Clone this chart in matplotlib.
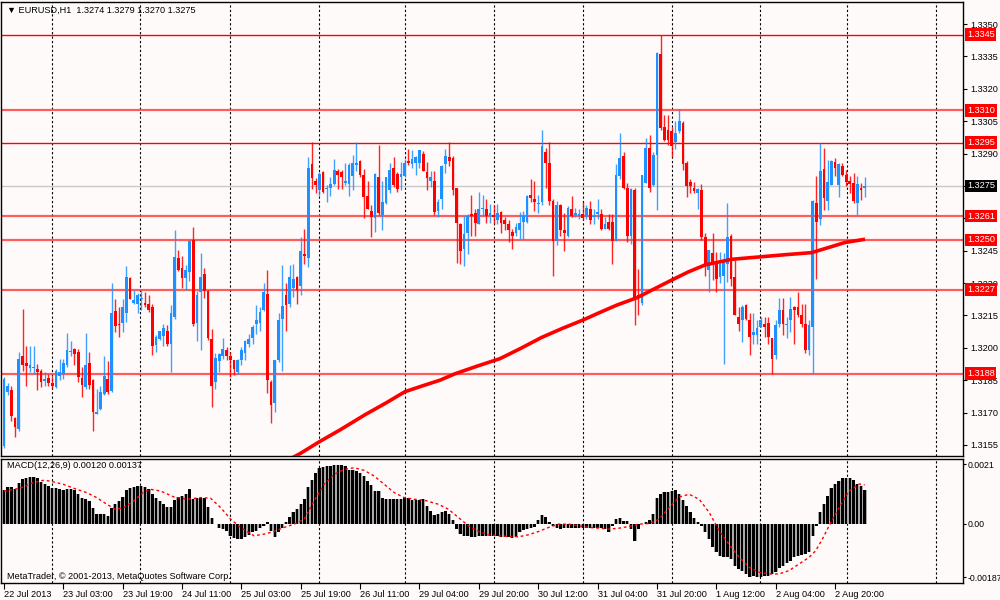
import matplotlib
matplotlib.use('Agg')
import matplotlib.pyplot as plt
import matplotlib.transforms as mtransforms
import numpy as np

# ---------------- data ----------------
opens = [
    1.31545, 1.31795, 1.31805, 1.31675, 1.31625, 1.31960, 1.31930, 1.31905, 1.31905, 1.31900,
    1.31895, 1.31845, 1.31860, 1.31835, 1.31820, 1.31870, 1.31880, 1.31920, 1.31980, 1.31995,
    1.31980, 1.31860, 1.31820, 1.31930, 1.31850, 1.31695, 1.31715, 1.31785, 1.31855, 1.31800,
    1.32170, 1.32110, 1.32115, 1.32160, 1.32325, 1.32210, 1.32205, 1.32225, 1.32210, 1.32205,
    1.32190, 1.32015, 1.32040, 1.32055, 1.32080, 1.32020, 1.32145, 1.32415, 1.32370, 1.32325,
    1.32350, 1.32500, 1.32115, 1.32260, 1.32340, 1.32265, 1.32040, 1.31840, 1.31940, 1.31960,
    1.31990, 1.31960, 1.31945, 1.31890, 1.31945, 1.31975, 1.32020, 1.32045, 1.32110, 1.32115,
    1.32175, 1.32250, 1.31840, 1.31745, 1.31945, 1.32135, 1.32245, 1.32205, 1.32275, 1.32330,
    1.32285, 1.32435, 1.32415, 1.32850, 1.32775, 1.32730, 1.32815, 1.32735, 1.32740, 1.32760,
    1.32820, 1.32815, 1.32765, 1.32760, 1.32795, 1.32845, 1.32865, 1.32800, 1.32705, 1.32635,
    1.32600, 1.32790, 1.32615, 1.32670, 1.32730, 1.32835, 1.32805, 1.32790, 1.32795, 1.32865,
    1.32850, 1.32855, 1.32855, 1.32900, 1.32815, 1.32775, 1.32775, 1.32635, 1.32690, 1.32850,
    1.32885, 1.32880, 1.32740, 1.32575, 1.32460, 1.32530, 1.32620, 1.32625, 1.32575, 1.32645,
    1.32645, 1.32610, 1.32615, 1.32590, 1.32630, 1.32590, 1.32575, 1.32535, 1.32530, 1.32545,
    1.32585, 1.32585, 1.32710, 1.32690, 1.32665, 1.32675, 1.32905, 1.32855, 1.32680, 1.32495,
    1.32660, 1.32545, 1.32520, 1.32645, 1.32615, 1.32610, 1.32620, 1.32605, 1.32645, 1.32605,
    1.32620, 1.32620, 1.32550, 1.32585, 1.32585, 1.32495, 1.32795, 1.32890, 1.32740, 1.32520,
    1.32730, 1.32245, 1.32210, 1.32765, 1.32925, 1.32755, 1.32895, 1.33360, 1.33025, 1.33010,
    1.33005, 1.32955, 1.33005, 1.33040, 1.32855, 1.32770, 1.32740, 1.32715, 1.32730, 1.32515,
    1.32360, 1.32440, 1.32395, 1.32330, 1.32335, 1.32390, 1.32520, 1.32330, 1.32145, 1.32130,
    1.32200, 1.32130, 1.32060, 1.32060, 1.32095, 1.32110, 1.32115, 1.32045, 1.31965, 1.32110,
    1.32175, 1.32105, 1.32130, 1.32190, 1.32190, 1.32150, 1.32110, 1.31990, 1.32095, 1.32670,
    1.32595, 1.32830, 1.32680, 1.32755, 1.32860, 1.32755, 1.32840, 1.32800, 1.32775, 1.32765,
    1.32670, 1.32740, 1.32740,
]
highs = [
    1.31865, 1.31835, 1.31825, 1.31680, 1.31980, 1.32180, 1.32010, 1.32010, 1.32010, 1.31925,
    1.31900, 1.31890, 1.31880, 1.31870, 1.31900, 1.31950, 1.31950, 1.32070, 1.32030, 1.32000,
    1.31995, 1.31910, 1.32070, 1.31980, 1.31855, 1.31810, 1.31825, 1.31960, 1.31940, 1.32300,
    1.32225, 1.32190, 1.32225, 1.32380, 1.32330, 1.32270, 1.32255, 1.32270, 1.32260, 1.32245,
    1.32205, 1.32060, 1.32080, 1.32110, 1.32105, 1.32200, 1.32545, 1.32455, 1.32425, 1.32385,
    1.32500, 1.32560, 1.32265, 1.32440, 1.32370, 1.32270, 1.32085, 1.31975, 1.31975, 1.32045,
    1.32005, 1.31980, 1.31945, 1.31950, 1.32005, 1.32035, 1.32065, 1.32105, 1.32200, 1.32190,
    1.32300, 1.32360, 1.31850, 1.31945, 1.32160, 1.32385, 1.32300, 1.32385, 1.32390, 1.32335,
    1.32515, 1.32550, 1.32885, 1.32955, 1.32785, 1.32815, 1.32820, 1.32755, 1.32790, 1.32875,
    1.32830, 1.32825, 1.32855, 1.32855, 1.32895, 1.32955, 1.32870, 1.32830, 1.32775, 1.32660,
    1.32810, 1.32940, 1.32775, 1.32790, 1.32855, 1.32885, 1.32815, 1.32860, 1.32875, 1.32920,
    1.32915, 1.32890, 1.32915, 1.32910, 1.32860, 1.32820, 1.32820, 1.32690, 1.32845, 1.32920,
    1.32955, 1.32890, 1.32740, 1.32580, 1.32610, 1.32620, 1.32710, 1.32645, 1.32720, 1.32710,
    1.32690, 1.32665, 1.32660, 1.32665, 1.32635, 1.32605, 1.32590, 1.32550, 1.32580, 1.32630,
    1.32635, 1.32710, 1.32780, 1.32775, 1.32710, 1.33010, 1.32925, 1.32955, 1.32690, 1.32680,
    1.32665, 1.32625, 1.32655, 1.32705, 1.32650, 1.32645, 1.32675, 1.32660, 1.32680, 1.32645,
    1.32690, 1.32645, 1.32605, 1.32620, 1.32620, 1.32850, 1.32995, 1.32905, 1.32765, 1.32740,
    1.32740, 1.32365, 1.32800, 1.32970, 1.32985, 1.32905, 1.33370, 1.33450, 1.33080, 1.33080,
    1.33025, 1.33050, 1.33105, 1.33050, 1.32865, 1.32780, 1.32770, 1.32740, 1.32760, 1.32530,
    1.32455, 1.32530, 1.32445, 1.32445, 1.32440, 1.32670, 1.32525, 1.32405, 1.32190, 1.32200,
    1.32205, 1.32160, 1.32160, 1.32130, 1.32145, 1.32145, 1.32145, 1.32045, 1.32130, 1.32230,
    1.32230, 1.32145, 1.32235, 1.32195, 1.32260, 1.32205, 1.32205, 1.32130, 1.32685, 1.32795,
    1.32950, 1.32925, 1.32870, 1.32870, 1.32880, 1.32855, 1.32855, 1.32825, 1.32795, 1.32810,
    1.32795, 1.32765, 1.32790,
]
lows = [
    1.31535, 1.31780, 1.31660, 1.31585, 1.31615, 1.31895, 1.31825, 1.31890, 1.31880, 1.31805,
    1.31820, 1.31825, 1.31825, 1.31815, 1.31815, 1.31850, 1.31855, 1.31910, 1.31960, 1.31920,
    1.31840, 1.31770, 1.31810, 1.31810, 1.31615, 1.31695, 1.31710, 1.31780, 1.31785, 1.31795,
    1.32075, 1.32050, 1.32075, 1.32120, 1.32225, 1.32205, 1.32160, 1.32175, 1.32190, 1.32165,
    1.31965, 1.31980, 1.32035, 1.32010, 1.32010, 1.31890, 1.32135, 1.32355, 1.32275, 1.32270,
    1.32310, 1.32100, 1.32030, 1.31990, 1.32230, 1.32035, 1.31725, 1.31810, 1.31890, 1.31950,
    1.31945, 1.31865, 1.31875, 1.31880, 1.31920, 1.31945, 1.32005, 1.32020, 1.32065, 1.32080,
    1.32170, 1.31790, 1.31650, 1.31705, 1.31935, 1.31895, 1.32080, 1.32190, 1.32235, 1.32205,
    1.32245, 1.32390, 1.32375, 1.32735, 1.32715, 1.32705, 1.32715, 1.32675, 1.32705, 1.32755,
    1.32735, 1.32735, 1.32755, 1.32705, 1.32730, 1.32820, 1.32790, 1.32600, 1.32645, 1.32515,
    1.32535, 1.32615, 1.32545, 1.32665, 1.32715, 1.32745, 1.32720, 1.32730, 1.32790, 1.32845,
    1.32835, 1.32800, 1.32835, 1.32820, 1.32730, 1.32745, 1.32615, 1.32605, 1.32645, 1.32810,
    1.32840, 1.32710, 1.32395, 1.32390, 1.32380, 1.32435, 1.32520, 1.32520, 1.32575, 1.32610,
    1.32580, 1.32580, 1.32575, 1.32575, 1.32530, 1.32545, 1.32490, 1.32460, 1.32520, 1.32505,
    1.32500, 1.32580, 1.32675, 1.32635, 1.32625, 1.32660, 1.32740, 1.32660, 1.32335, 1.32475,
    1.32520, 1.32450, 1.32515, 1.32605, 1.32605, 1.32595, 1.32590, 1.32595, 1.32575, 1.32575,
    1.32595, 1.32545, 1.32550, 1.32545, 1.32390, 1.32495, 1.32780, 1.32735, 1.32490, 1.32480,
    1.32105, 1.32150, 1.32200, 1.32765, 1.32720, 1.32750, 1.32640, 1.33010, 1.32960, 1.32940,
    1.32885, 1.32920, 1.32995, 1.32825, 1.32700, 1.32715, 1.32715, 1.32645, 1.32500, 1.32335,
    1.32260, 1.32315, 1.32260, 1.32300, 1.31925, 1.32305, 1.32285, 1.32150, 1.32080, 1.32025,
    1.32130, 1.31965, 1.32020, 1.32020, 1.32095, 1.32050, 1.32020, 1.31880, 1.31950, 1.32095,
    1.32060, 1.32045, 1.32075, 1.32020, 1.32145, 1.32095, 1.31975, 1.31965, 1.31880, 1.32320,
    1.32570, 1.32640, 1.32640, 1.32755, 1.32795, 1.32700, 1.32795, 1.32750, 1.32715, 1.32670,
    1.32615, 1.32685, 1.32700,
]
closes = [
    1.31855, 1.31825, 1.31685, 1.31635, 1.31950, 1.31920, 1.31915, 1.31920, 1.31910, 1.31890,
    1.31840, 1.31855, 1.31835, 1.31825, 1.31895, 1.31890, 1.31930, 1.31990, 1.31985, 1.31970,
    1.31865, 1.31830, 1.31920, 1.31830, 1.31705, 1.31705, 1.31795, 1.31870, 1.31795, 1.32160,
    1.32100, 1.32105, 1.32190, 1.32330, 1.32225, 1.32220, 1.32245, 1.32230, 1.32200, 1.32175,
    1.32010, 1.32050, 1.32080, 1.32090, 1.32020, 1.32160, 1.32420, 1.32360, 1.32325, 1.32360,
    1.32495, 1.32110, 1.32245, 1.32330, 1.32265, 1.32045, 1.31825, 1.31955, 1.31970, 1.31995,
    1.31960, 1.31945, 1.31900, 1.31945, 1.31990, 1.32030, 1.32040, 1.32095, 1.32130, 1.32165,
    1.32260, 1.31850, 1.31735, 1.31945, 1.32130, 1.32195, 1.32200, 1.32330, 1.32320, 1.32270,
    1.32450, 1.32425, 1.32835, 1.32785, 1.32755, 1.32805, 1.32720, 1.32740, 1.32760, 1.32825,
    1.32800, 1.32790, 1.32775, 1.32845, 1.32855, 1.32855, 1.32800, 1.32700, 1.32645, 1.32605,
    1.32805, 1.32625, 1.32675, 1.32790, 1.32825, 1.32755, 1.32735, 1.32805, 1.32855, 1.32855,
    1.32875, 1.32885, 1.32915, 1.32820, 1.32785, 1.32790, 1.32630, 1.32675, 1.32840, 1.32890,
    1.32865, 1.32730, 1.32580, 1.32450, 1.32525, 1.32610, 1.32610, 1.32580, 1.32645, 1.32650,
    1.32610, 1.32625, 1.32605, 1.32625, 1.32580, 1.32575, 1.32545, 1.32520, 1.32560, 1.32580,
    1.32610, 1.32705, 1.32695, 1.32675, 1.32670, 1.32935, 1.32855, 1.32680, 1.32495, 1.32660,
    1.32545, 1.32530, 1.32650, 1.32610, 1.32625, 1.32620, 1.32600, 1.32650, 1.32590, 1.32610,
    1.32630, 1.32550, 1.32575, 1.32550, 1.32495, 1.32800, 1.32880, 1.32740, 1.32520, 1.32735,
    1.32230, 1.32230, 1.32800, 1.32925, 1.32740, 1.32895, 1.33365, 1.33020, 1.32965, 1.32965,
    1.32935, 1.32995, 1.33050, 1.32850, 1.32750, 1.32750, 1.32725, 1.32735, 1.32515, 1.32385,
    1.32455, 1.32385, 1.32320, 1.32390, 1.32405, 1.32515, 1.32320, 1.32150, 1.32110, 1.32190,
    1.32135, 1.32050, 1.32075, 1.32090, 1.32130, 1.32095, 1.32050, 1.31950, 1.32105, 1.32175,
    1.32110, 1.32110, 1.32180, 1.32175, 1.32150, 1.32110, 1.31990, 1.32105, 1.32680, 1.32585,
    1.32820, 1.32695, 1.32770, 1.32865, 1.32835, 1.32850, 1.32800, 1.32770, 1.32760, 1.32680,
    1.32760, 1.32730, 1.32750,
]

ma_bars = [76.5, 79.8, 85.0, 90.6, 97.3, 103.0, 108.1, 113.0, 117.5, 121.6, 127.5, 133.7,
           139.0, 144.9, 150.5, 156.1, 160.5, 165.2, 170.6, 175.5, 180.0, 184.5, 189.0,
           196.1, 204.2, 211.0, 217.7, 223.1, 226.7, 232.1]
ma_values = [1.31480, 1.31510, 1.31565, 1.31620, 1.31690, 1.31745, 1.31797, 1.31825,
             1.31850, 1.31880, 1.31915, 1.31950, 1.31995, 1.32048, 1.32090, 1.32129,
             1.32163, 1.32198, 1.32232, 1.32275, 1.32314, 1.32352, 1.32384, 1.32410,
             1.32422, 1.32432, 1.32441, 1.32469, 1.32488, 1.32503]

# MACD histogram (one value per bar)
macd_hist = [
    0.00118, 0.00131, 0.00131, 0.00121, 0.00145, 0.00156, 0.00162, 0.00165, 0.00165, 0.00160,
    0.00148, 0.00141, 0.00133, 0.00127, 0.00125, 0.00121, 0.00119, 0.00121, 0.00124, 0.00120,
    0.00106, 0.00092, 0.00089, 0.00081, 0.00055, 0.00036, 0.00036, 0.00034, 0.00028, 0.00057,
    0.00069, 0.00081, 0.00095, 0.00118, 0.00125, 0.00130, 0.00133, 0.00133, 0.00130, 0.00121,
    0.00104, 0.00090, 0.00081, 0.00069, 0.00060, 0.00060, 0.00083, 0.00096, 0.00098, 0.00106,
    0.00121, 0.00086, 0.00090, 0.00092, 0.00090, 0.00060, 0.00022, -0.00001, -0.00013, -0.00019,
    -0.00025, -0.00042, -0.00050, -0.00054, -0.00054, -0.00048, -0.00039, -0.00030, -0.00025, -0.00015,
    -0.00007, 0.00007, -0.00025, -0.00046, -0.00027, -0.00013, 0.00005, 0.00025, 0.00040, 0.00051,
    0.00071, 0.00086, 0.00130, 0.00153, 0.00180, 0.00197, 0.00201, 0.00204, 0.00204, 0.00207,
    0.00208, 0.00207, 0.00203, 0.00191, 0.00188, 0.00186, 0.00180, 0.00168, 0.00151, 0.00137,
    0.00116, 0.00116, 0.00090, 0.00088, 0.00088, 0.00088, 0.00086, 0.00086, 0.00090, 0.00090,
    0.00084, 0.00084, 0.00084, 0.00086, 0.00063, 0.00046, 0.00032, 0.00034, 0.00042, 0.00046,
    0.00036, 0.00013, -0.00019, -0.00034, -0.00042, -0.00044, -0.00046, -0.00046, -0.00043, -0.00043,
    -0.00043, -0.00042, -0.00043, -0.00043, -0.00046, -0.00046, -0.00048, -0.00050, -0.00048, -0.00030,
    -0.00022, -0.00019, -0.00015, -0.00011, 0.00015, 0.00032, 0.00025, 0.00005, -0.00007, -0.00015,
    -0.00019, -0.00013, -0.00013, -0.00013, -0.00015, -0.00015, -0.00015, -0.00015, -0.00016, -0.00016,
    -0.00015, -0.00015, -0.00019, -0.00030, -0.00007, 0.00016, 0.00022, 0.00011, 0.00011, -0.00019,
    -0.00060, -0.00019, -0.00001, 0.00008, 0.00013, 0.00036, 0.00090, 0.00104, 0.00113, 0.00113,
    0.00116, 0.00118, 0.00104, 0.00083, 0.00063, 0.00040, 0.00022, 0.00005, -0.00007, -0.00027,
    -0.00054, -0.00081, -0.00100, -0.00112, -0.00116, -0.00118, -0.00124, -0.00147, -0.00159, -0.00165,
    -0.00176, -0.00187, -0.00184, -0.00187, -0.00186, -0.00184, -0.00182, -0.00176, -0.00170, -0.00155,
    -0.00147, -0.00139, -0.00130, -0.00118, -0.00114, -0.00110, -0.00106, -0.00100, -0.00044, -0.00007,
    0.00043, 0.00069, 0.00098, 0.00125, 0.00141, 0.00151, 0.00160, 0.00162, 0.00160, 0.00153,
    0.00139, 0.00133, 0.00120,
]

# MACD signal line (sampled points)
signal_bars = [0, 4.3, 7.9, 10.6, 12.4, 16.0, 19.6, 22.3, 25.0, 27.7, 30.0, 32.3, 35.0, 37.7,
               39.5, 42.2, 45.8, 49.4, 53.0, 55.7, 58.4, 61.1, 63.8, 67.4, 70.1, 72.8, 75.5,
               78.2, 80.9, 83.6, 86.3, 89.0, 91.7, 94.4, 97.1, 99.8, 102.5, 105.2, 107.9,
               110.6, 113.3, 117.1, 119.8, 122.5, 125.2, 127.9, 130.6, 133.3, 136.0, 138.7,
               141.4, 144.1, 146.8, 149.5, 152.3, 155.0, 157.7, 160.4, 163.1, 165.8, 168.5,
               171.2, 173.9, 176.6, 179.3, 182.0, 184.7, 187.4, 190.1, 192.8, 195.5, 198.2,
               200.9, 203.6, 206.3, 208.9, 211.6, 214.3, 217.0, 218.8, 220.6, 222.4, 225.1,
               227.8, 230.5, 232.0]
signal_values = [0.001155, 0.001249, 0.001447, 0.001529, 0.001505, 0.001389, 0.001214,
                 0.001097, 0.000922, 0.000689, 0.000513, 0.000572, 0.000805, 0.001120,
                 0.001214, 0.001155, 0.000945, 0.000864, 0.000922, 0.000899, 0.000572,
                 0.000163, -0.000128, -0.000420, -0.000362, -0.000268, -0.000128, -0.000012,
                 0.000163, 0.000805, 0.001389, 0.001739, 0.001914, 0.001972, 0.001879,
                 0.001680, 0.001389, 0.001097, 0.000922, 0.000864, 0.000829, 0.000689,
                 0.000513, 0.000222, -0.000070, -0.000268, -0.000385, -0.000420, -0.000443,
                 -0.000455, -0.000385, -0.000268, -0.000128, -0.000012, -0.000012, -0.000070,
                 -0.000128, -0.000152, -0.000187, -0.000152, -0.000093, -0.000012, 0.000012,
                 0.000163, 0.000572, 0.000945, 0.001039, 0.000864, 0.000397, -0.000245,
                 -0.000735, -0.001179, -0.001529, -0.001704, -0.001762, -0.001762, -0.001645,
                 -0.001412, -0.001179, -0.000945, -0.000537, -0.000070, 0.000572, 0.001155,
                 0.001400, 0.001370]

levels = [1.3345, 1.3310, 1.3295, 1.3261, 1.3250, 1.3227, 1.3188]
level_labels = ['1.3345', '1.3310', '1.3295', '1.3261', '1.3250', '1.3227', '1.3188']
current_price = 1.3275
current_label = '1.3275'

price_ticks = [1.3155, 1.3170, 1.3185, 1.3200, 1.3215, 1.3230, 1.3245, 1.3260,
               1.3275, 1.3290, 1.3305, 1.3320, 1.3335, 1.3350]
price_tick_labels = ['1.3155', '1.3170', '1.3185', '1.3200', '1.3215', '1.3230', '1.3245', '',
                     '', '1.3290', '1.3305', '1.3320', '1.3335', '1.3350']
macd_ticks = [0.0021, 0.0, -0.00187]
macd_tick_labels = ['0.0021', '0.00', '-0.00187']

time_tick_bars = [0, 16, 32, 48, 64, 80, 96, 112, 128, 144, 160, 176, 192, 208, 224]
time_tick_labels = ['22 Jul 2013', '23 Jul 03:00', '23 Jul 19:00', '24 Jul 11:00',
                    '25 Jul 03:00', '25 Jul 19:00', '26 Jul 11:00', '29 Jul 04:00',
                    '29 Jul 20:00', '30 Jul 12:00', '31 Jul 04:00', '31 Jul 20:00',
                    '1 Aug 12:00', '2 Aug 04:00', '2 Aug 20:00']
day_separators = [12.9, 36.7, 60.9, 84.9, 108.1, 132.1, 156.1, 180.1, 203.8, 227.2, 251.2]

title_main = '\u25BC EURUSD,H1  1.3274 1.3279 1.3270 1.3275'
title_macd = 'MACD(12,26,9) 0.00120 0.00137'
copyright_text = 'MetaTrader, \u00A9 2001-2013, MetaQuotes Software Corp.'

# ---------------- drawing ----------------
plt.rcParams['font.family'] = ['Liberation Sans', 'DejaVu Sans']
BG = '#FFFAFA'
BULL = '#1E90FF'
BEAR = '#FF0000'
FS = 6.6

fig = plt.figure(figsize=(10, 6), dpi=100, facecolor=BG)
ax = fig.add_axes([0.001, 0.24, 0.962, 0.7567], facecolor=BG)
axm = fig.add_axes([0.001, 0.02833, 0.962, 0.2067], facecolor=BG)

o = np.array(opens); h = np.array(highs); l = np.array(lows); c = np.array(closes)
x = np.arange(len(c))
cols = [BULL if cc >= oo else BEAR for oo, cc in zip(o, c)]

xlim = (-0.8, 258.5)

# level lines
thin_levels = {1.3345, 1.3295}
for lv in levels:
    if lv in thin_levels:
        ax.axhline(lv, color='#FF0000', lw=1.0, zorder=1)
    else:
        ax.axhline(lv, color='#FF4040', lw=1.6, alpha=0.85, zorder=1)
ax.axhline(current_price, color='#C8C8C8', lw=1.0, zorder=1)

for d in day_separators:
    ax.axvline(d, color='black', lw=0.8, ls=(0, (2, 2)), zorder=0.5)
    axm.axvline(d, color='black', lw=0.8, ls=(0, (2, 2)), zorder=0.5)

# candles
ax.vlines(x, l, h, colors=cols, lw=1.0, alpha=0.85, zorder=2)
body_h = np.maximum(np.abs(c - o), 0.00003)
ax.bar(x, body_h, bottom=np.minimum(o, c), width=0.74, color=cols, linewidth=0, zorder=3)

# moving average
ax.plot(ma_bars, ma_values, color='#FF0000', lw=2.6, zorder=4, solid_capstyle='butt')

ax.set_xlim(*xlim)
ax.set_ylim(1.31499, 1.33602)
ax.yaxis.tick_right()
ax.set_yticks(price_ticks)
ax.set_yticklabels(price_tick_labels)
ax.tick_params(axis='y', direction='out', length=3, width=0.8, labelsize=FS, pad=2)
ax.tick_params(axis='x', bottom=False, labelbottom=False)
for sp in ax.spines.values():
    sp.set_color('black'); sp.set_linewidth(1.0)

trans = mtransforms.blended_transform_factory(ax.transAxes, ax.transData)
for lv, lab in zip(levels, level_labels):
    ax.text(1.004, lv, lab, transform=trans, ha='left', va='center', color='white',
            fontsize=FS, clip_on=False, zorder=10,
            bbox=dict(boxstyle='square,pad=0.2', fc='#FF0000', ec='none'))
ax.text(1.004, current_price, current_label, transform=trans, ha='left', va='center',
        color='white', fontsize=FS, clip_on=False, zorder=10,
        bbox=dict(boxstyle='square,pad=0.2', fc='black', ec='none'))

ax.text(0.006, 0.982, title_main, transform=ax.transAxes, ha='left', va='center',
        fontsize=FS, color='black')

# MACD panel
axm.bar(x, macd_hist, width=1.0, color='#A8A8A8', linewidth=0, zorder=2)
axm.bar(x, macd_hist, width=0.66, color='black', linewidth=0, zorder=3)
axm.plot(signal_bars, signal_values, color='#FF0000', lw=1.0, ls=(0, (2, 2)), zorder=4)
axm.set_xlim(*xlim)
axm.set_ylim(-0.00208, 0.00228)
axm.yaxis.tick_right()
axm.set_yticks(macd_ticks)
axm.set_yticklabels(macd_tick_labels)
axm.tick_params(axis='y', direction='out', length=2, width=0.8, labelsize=6.3, pad=1)
axm.set_xticks(time_tick_bars)
axm.set_xticklabels(time_tick_labels, ha='left')
axm.tick_params(axis='x', direction='out', length=4, width=0.8, labelsize=FS, pad=1)
for sp in axm.spines.values():
    sp.set_color('black'); sp.set_linewidth(1.0)

axm.text(0.006, 0.944, title_macd, transform=axm.transAxes, ha='left', va='center',
         fontsize=FS, color='black')
axm.text(0.006, 0.056, copyright_text, transform=axm.transAxes, ha='left', va='center',
         fontsize=FS, color='black')

fig.savefig('out.png', dpi=100, facecolor=BG)
